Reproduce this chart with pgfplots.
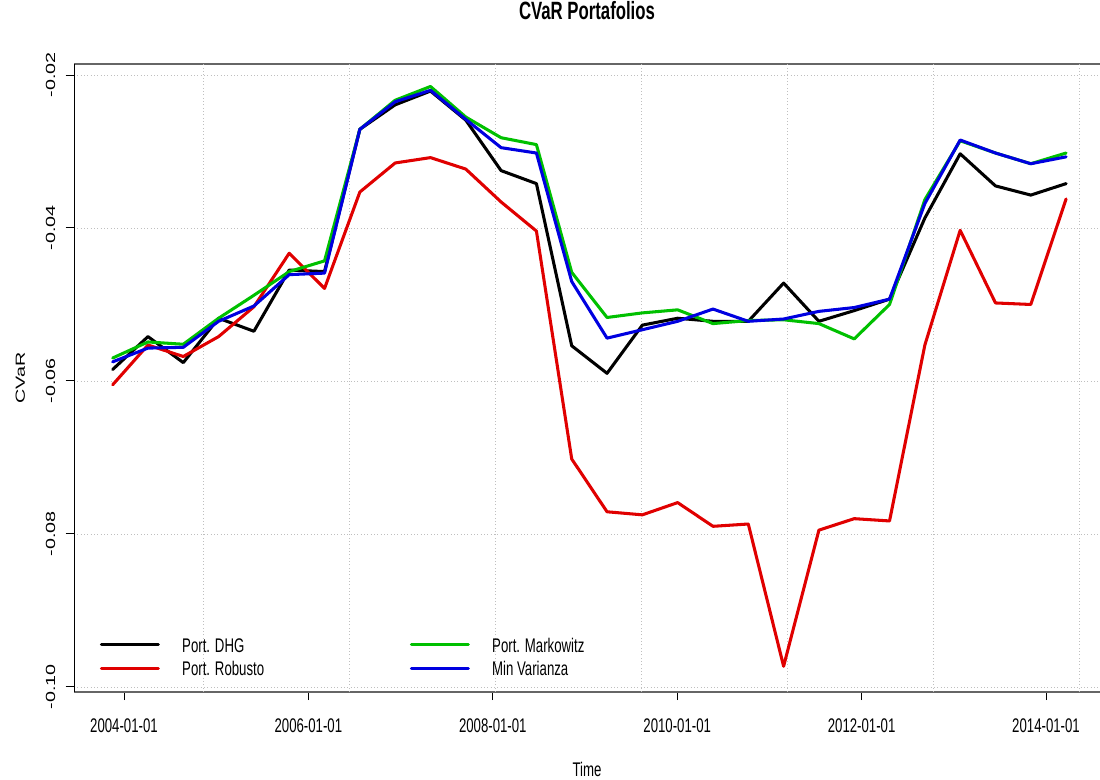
\documentclass[border=0pt]{standalone}
\usepackage{fontspec}
\setmainfont{Liberation Sans}[FakeStretch=0.67]
\newfontfamily\rotfont{Liberation Sans}
\usepackage{graphicx}
\usepackage{pgfplots}
\pgfplotsset{compat=1.18}
\usepackage{pgfplotstable}

\definecolor{rred}{HTML}{E00000}
\definecolor{rgreen}{HTML}{00C000}
\definecolor{rblue}{HTML}{0000E0}

% rotated labels: squeeze glyph height so that it matches the condensed look
\newcommand\yl[1]{{\rotfont\scalebox{1}[0.67]{#1}}}

% CVaR of the four portfolios, one row per rebalancing date (decimal years)
\pgfplotstableread{
t        dhg     rob     mark    minv
2003.877 -0.0585 -0.0605 -0.0570 -0.0575
2004.260 -0.0542 -0.0553 -0.0549 -0.0557
2004.643 -0.0576 -0.0568 -0.0552 -0.0556
2005.026 -0.0518 -0.0542 -0.0518 -0.0522
2005.409 -0.0535 -0.0503 -0.0488 -0.0502
2005.792 -0.0455 -0.0433 -0.0457 -0.0461
2006.175 -0.0457 -0.0479 -0.0443 -0.0459
2006.558 -0.0271 -0.0353 -0.0271 -0.0271
2006.941 -0.0239 -0.0315 -0.0233 -0.0235
2007.324 -0.0221 -0.0308 -0.0215 -0.0220
2007.707 -0.0259 -0.0323 -0.0255 -0.0258
2008.090 -0.0325 -0.0366 -0.0282 -0.0295
2008.473 -0.0342 -0.0404 -0.0291 -0.0302
2008.856 -0.0554 -0.0702 -0.0458 -0.0470
2009.239 -0.0590 -0.0771 -0.0517 -0.0544
2009.622 -0.0527 -0.0775 -0.0511 -0.0533
2010.005 -0.0518 -0.0759 -0.0507 -0.0522
2010.388 -0.0522 -0.0790 -0.0525 -0.0506
2010.771 -0.0522 -0.0787 -0.0521 -0.0522
2011.154 -0.0472 -0.0973 -0.0520 -0.0519
2011.537 -0.0522 -0.0795 -0.0525 -0.0509
2011.920 -0.0508 -0.0780 -0.0545 -0.0504
2012.303 -0.0493 -0.0783 -0.0500 -0.0493
2012.686 -0.0387 -0.0553 -0.0363 -0.0368
2013.069 -0.0303 -0.0403 -0.0286 -0.0285
2013.452 -0.0345 -0.0498 -0.0302 -0.0302
2013.835 -0.0357 -0.0500 -0.0316 -0.0316
2014.218 -0.0342 -0.0362 -0.0302 -0.0307
}\cvar

\begin{document}
\begin{tikzpicture}
\begin{axis}[
    scale only axis,
    width=738.72pt, height=451.94pt,
    xmin=2003.4577, xmax=2014.5857,
    ymin=-0.10062, ymax=-0.018562,
    axis x line=box, axis y line=left,
    x axis line style={-, draw=black!60, line width=1.3pt},
    y axis line style={-, draw=black, line width=0.7pt},
    tick align=outside, major tick length=6pt,
    tick style={black, line width=0.7pt},
    xtick pos=left, ytick pos=left,
    xtick={2004,2006,2008,2010,2012,2014},
    xticklabels={2004-01-01,2006-01-01,2008-01-01,2010-01-01,2012-01-01,2014-01-01},
    ytick={-0.10,-0.08,-0.06,-0.04,-0.02},
    yticklabels={\yl{-0.10},\yl{-0.08},\yl{-0.06},\yl{-0.04},\yl{-0.02}},
    extra x ticks={2004.857,2006.4405,2008.024,2009.6075,2011.191,2012.7745,2014.358},
    extra x tick labels={},
    extra x tick style={grid=major, tick style={draw=none}},
    ymajorgrids,
    major grid style={draw=lightgray, dotted, line width=0.6pt},
    tick label style={font=\fontsize{14.2}{17}\selectfont},
    xticklabel style={anchor=base, yshift=-23.7pt},
    yticklabel style={xshift=-7.7pt, rotate=90, anchor=base},
    title={CVaR Portafolios},
    title style={at={(axis description cs:0.5,1)}, anchor=base, yshift=25.9pt,
                 font=\bfseries\fontsize{18}{21}\selectfont},
    xlabel={Time},
    ylabel={\yl{CVaR}},
    every axis x label/.style={at={([yshift=-61.2pt]axis description cs:0.5,0)}, anchor=base,
                 font=\fontsize{14.2}{17}\selectfont},
    every axis y label/.style={at={([xshift=-35.3pt]axis description cs:0,0.5)}, rotate=90, anchor=base,
                 font=\fontsize{14.2}{17}\selectfont},
    legend columns=2, transpose legend,
    legend image code/.code={\draw[#1] (0pt,5.5pt) -- (41pt,5.5pt);},
    legend style={draw=none, fill=none, inner sep=0pt, outer sep=0pt,
                  at={(axis description cs:0,0)}, anchor=south west,
                  xshift=18.7pt, yshift=10pt,
                  font=\fontsize{14.2}{17}\selectfont,
                  nodes={inner sep=0pt, anchor=base west},
                  row sep=5pt,
                  /tikz/every odd column/.append style={column sep=16pt},
                  /tikz/every even column/.append style={column sep=54pt}},
    every axis plot/.append style={line width=2.2pt, line join=round, line cap=round},
]
\addplot[black] table[x=t, y=dhg] {\cvar};
\addlegendentry{\makebox[110pt][l]{Port. DHG}}
\addplot[rred] table[x=t, y=rob] {\cvar};
\addlegendentry{\makebox[110pt][l]{Port. Robusto}}
\addplot[rgreen] table[x=t, y=mark] {\cvar};
\addlegendentry{\makebox[110pt][l]{Port. Markowitz}}
\addplot[rblue] table[x=t, y=minv] {\cvar};
\addlegendentry{\makebox[110pt][l]{Min Varianza}}
\end{axis}
\pgfresetboundingbox
\path[use as bounding box] ([xshift=-53.28pt,yshift=-63.58pt]current axis.south west)
    rectangle ([yshift=46.08pt]current axis.north east);
\end{tikzpicture}
\end{document}
